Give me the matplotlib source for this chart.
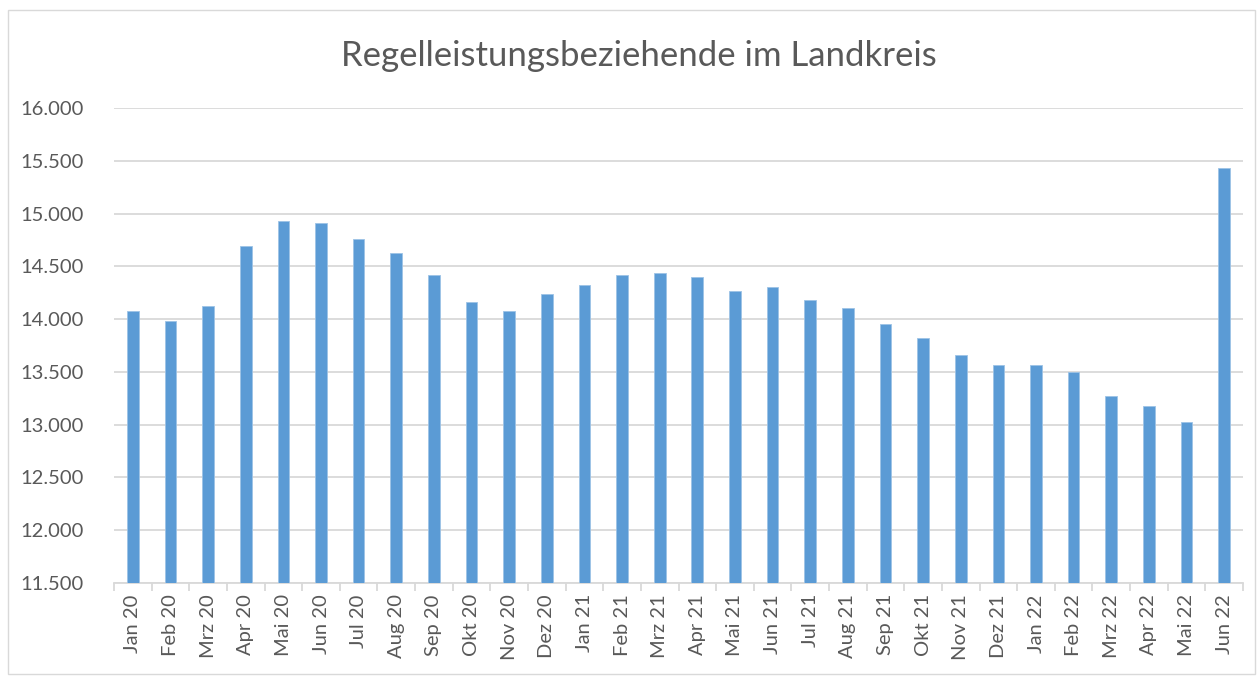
import matplotlib
matplotlib.use('Agg')
import matplotlib.pyplot as plt
from matplotlib.patches import Rectangle
from matplotlib.ticker import FuncFormatter, MultipleLocator, FixedLocator

# Monate und Werte
monate = ['Jan 20', 'Feb 20', 'Mrz 20', 'Apr 20', 'Mai 20', 'Jun 20',
          'Jul 20', 'Aug 20', 'Sep 20', 'Okt 20', 'Nov 20', 'Dez 20',
          'Jan 21', 'Feb 21', 'Mrz 21', 'Apr 21', 'Mai 21', 'Jun 21',
          'Jul 21', 'Aug 21', 'Sep 21', 'Okt 21', 'Nov 21', 'Dez 21',
          'Jan 22', 'Feb 22', 'Mrz 22', 'Apr 22', 'Mai 22', 'Jun 22']
werte = [14076, 13984, 14120, 14690, 14934, 14909,
         14760, 14622, 14421, 14165, 14073, 14241,
         14323, 14417, 14436, 14398, 14270, 14308,
         14177, 14108, 13950, 13819, 13656, 13566,
         13566, 13500, 13270, 13180, 13023, 15433]

plt.rcParams['font.family'] = ['Lato', 'DejaVu Sans']
textfarbe = '#595959'
linienfarbe = '#d9d9d9'

fig = plt.figure(figsize=(12.6, 6.77), dpi=100)
fig.patches.append(Rectangle((0.006, 0.004), 0.99, 0.981, transform=fig.transFigure,
                             fill=False, edgecolor=linienfarbe, linewidth=1))
ax = fig.add_axes([0.0905, 0.1388, 0.896, 0.7017])

x = list(range(len(monate)))
ax.bar(x, werte, width=0.31, color='#5b9bd5', edgecolor='#9dc3e6', linewidth=0.6, zorder=3)

ax.set_xlim(-0.5, len(monate) - 0.5)
ax.set_ylim(11500, 16000)
ax.yaxis.set_major_locator(MultipleLocator(500))
ax.yaxis.set_major_formatter(FuncFormatter(lambda v, p: f'{int(v):,}'.replace(',', '.')))
ax.grid(axis='y', color=linienfarbe, linewidth=1.3, zorder=0)

ax.set_xticks(x)
ax.set_xticklabels(monate, rotation=90)
ax.xaxis.set_minor_locator(FixedLocator([i - 0.5 for i in range(len(monate) + 1)]))
ax.tick_params(axis='x', which='major', length=0, pad=8, labelsize=14.5, labelcolor=textfarbe)
ax.tick_params(axis='x', which='minor', length=6, color=linienfarbe, width=1.3)
ax.tick_params(axis='y', length=0, pad=22, labelsize=14.5, labelcolor=textfarbe)

for s in ['top', 'right', 'left']:
    ax.spines[s].set_visible(False)
ax.spines['bottom'].set_color(linienfarbe)
ax.spines['bottom'].set_linewidth(1.3)

fig.text(0.507, 0.918, 'Regelleistungsbeziehende im Landkreis', ha='center', va='center',
         fontsize=25, color=textfarbe)

plt.savefig('out.png', dpi=100)
